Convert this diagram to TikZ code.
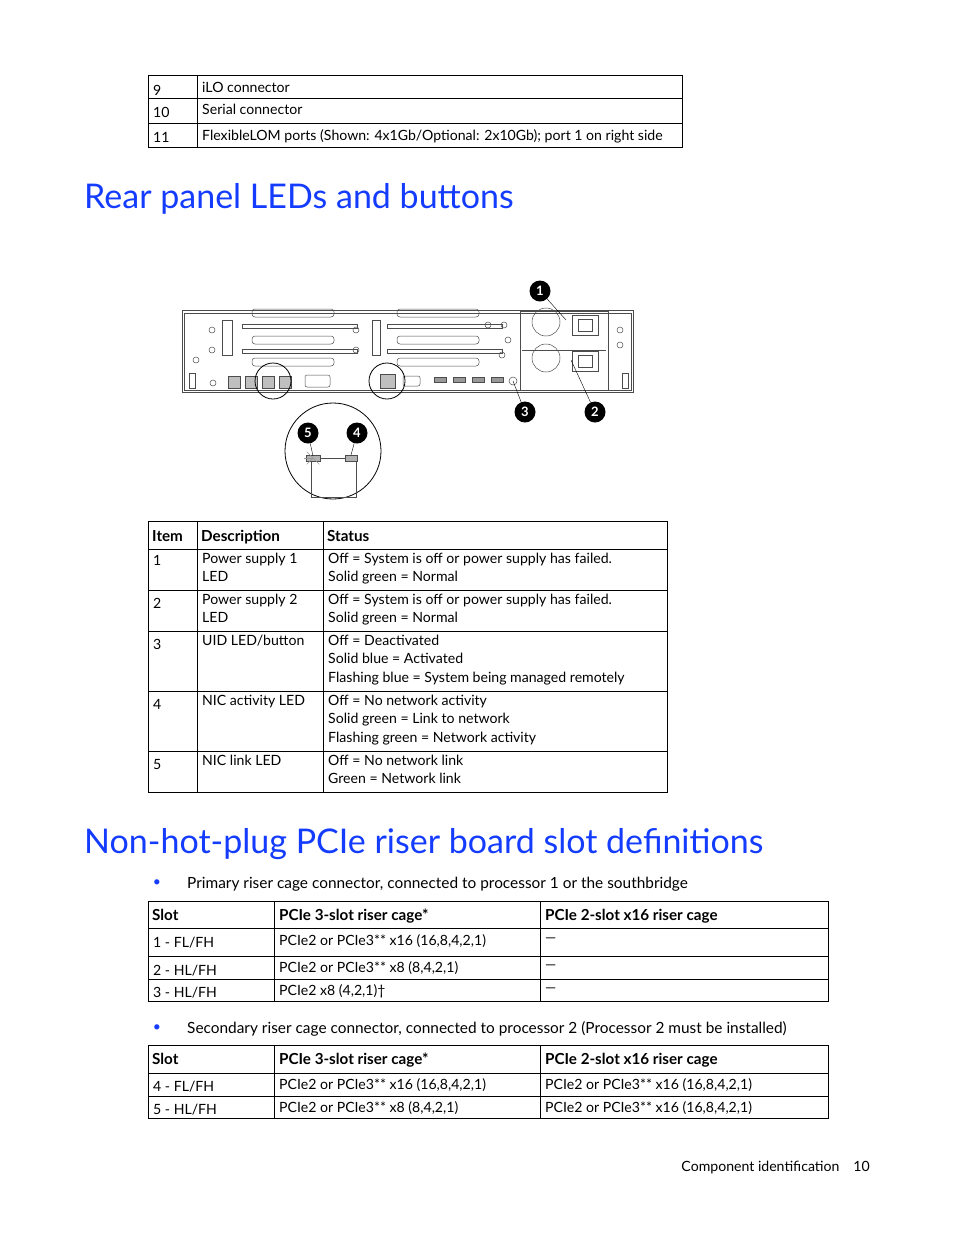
\documentclass[tikz,border=0pt]{standalone}
\usepackage{fontspec}
\setmainfont{Lato}
\usetikzlibrary{positioning}
\definecolor{hpblue}{RGB}{20,60,255}
\tikzset{
  cell/.style={anchor=north west, inner sep=0pt, yshift=-3pt, font=\fontsize{14.1}{18.3}\selectfont, align=left},
  head/.style={cell, font=\fontsize{15.2}{18}\selectfont\bfseries},
  title/.style={anchor=west, inner sep=0pt, text=hpblue, font=\fontsize{34}{38}\selectfont},
  callout/.style={circle, fill=black, text=white, inner sep=0pt, minimum size=21pt, font=\fontsize{13}{13}\selectfont\bfseries},
  grid/.style={line width=0.9pt},
  part/.style={draw=black!70, line width=0.5pt},
}
\begin{document}
\begin{tikzpicture}[x=1pt,y=-1pt]
\useasboundingbox (0,0) rectangle (954,1235);
% top table
\draw[grid] (148,75) rectangle (682,147);
\foreach \y in {98,123} \draw[grid] (148,\y) -- (682,\y);
\draw[grid] (197,75) -- (197,147);
\node[cell] (t1a) at (153,82) {9};
\node[cell] (t1b) at (202,79) {iLO connector};
\node[cell] (t1c) at (153,104) {10};
\node[cell] (t1d) at (202,101) {Serial connector};
\node[cell] (t1e) at (153,129) {11};
\node[cell] (t1f) at (202,126) {FlexibleLOM ports (Shown: 4x1Gb/Optional: 2x10Gb); port 1 on right side};
% heading 1
\node[title] (h1) at (84,199) {Rear panel LEDs and buttons};
% rear panel
\draw[part, line width=0.8pt] (182,310) rectangle (633,392);
\draw[part] (184,313) rectangle (631,390);
\foreach \x in {252,397} {
  \foreach \y in {313,340,362} \draw[part, rounded corners=3pt] (\x,\y-4) rectangle (\x+82,\y+4);
  \foreach \y in {326,351} \draw[part] (\x-10,\y-2) rectangle (\x+105,\y+2);
}
\draw[part] (222,320) rectangle (232,355);
\draw[part] (372,320) rectangle (380,355);
\foreach \x/\y in {196/360, 212/330, 212/350, 356/350, 356/330, 508/340, 502/355, 620/345, 620/330, 213/383, 488/325, 504/325} \draw[part] (\x,\y) circle (3);
\foreach \x in {192,625} \draw[part] (\x-3,373) rectangle (\x+3,388);
% ports
\foreach \x in {228,245,262,279} \draw[part, fill=black!25] (\x,376) rectangle (\x+12,388);
\draw[part, rounded corners=2pt] (305,375) rectangle (330,387);
\draw[part, fill=black!25] (380,374) rectangle (395,388);
\draw[part, rounded corners=2pt] (403,376) rectangle (420,386);
\foreach \x in {434,453,472,491} \draw[part, fill=black!40] (\x,377) rectangle (\x+12,382);
\draw[part] (513,381) circle (4);
% power supplies
\draw[part] (520,311) rectangle (608,390);
\foreach \y in {322,358} {
  \draw[part] (546,\y) circle (14);
  \draw[part] (572,\y-7) rectangle (598,\y+13);
  \draw[part] (578,\y-3) rectangle (592,\y+9);
}
\draw[part] (522,350) -- (606,350);
\coordinate (led1) at (566,320);
\coordinate (led2) at (571,360);
\coordinate (uid) at (513,381);
% magnifiers
\draw[line width=0.8pt] (273,381) circle (18);
\draw[line width=0.8pt] (387,381) circle (18);
\draw[line width=0.8pt] (333,451) circle (48);
\draw[part] (311,458) rectangle (356,497);
\draw[part, fill=black!30] (306,455) rectangle (320,461);
\draw[part, fill=black!30] (345,455) rectangle (357,461);
\foreach \a in {135,180,225,45} \draw[black!40] (313,458) -- ++(\a:9);
\coordinate (nicl) at (313,456);
\coordinate (nica) at (351,455);
\node[callout] (c1) at (540,291) {1};
\node[callout] (c2) at (595,412) {2};
\node[callout] (c3) at (525,412) {3};
\node[callout] (c4) at (357,433) {4};
\node[callout] (c5) at (308,433) {5};
\draw (c1) -- (led1);
\draw (c2) -- (led2);
\draw (c3) -- (uid);
\draw (c4) -- (nica);
\draw (c5) -- (nicl);
% LED table
\draw[grid] (148,521) rectangle (667,792);
\foreach \y in {549,590,631,691,751} \draw[grid] (148,\y) -- (667,\y);
\foreach \x in {197,323} \draw[grid] (\x,521) -- (\x,792);
\node[head] (l0a) at (152,527) {Item};
\node[head] (l0b) at (201,527) {Description};
\node[head] (l0c) at (327,527) {Status};
\node[cell] (l1a) at (153,552) {1};
\node[cell] (l1b) at (202,550) {Power supply 1\\LED};
\node[cell] (l1c) at (328,550) {Off = System is off or power supply has failed.\\Solid green = Normal};
\node[cell] (l2a) at (153,595) {2};
\node[cell] (l2b) at (202,591) {Power supply 2\\LED};
\node[cell] (l2c) at (328,591) {Off = System is off or power supply has failed.\\Solid green = Normal};
\node[cell] (l3a) at (153,636) {3};
\node[cell] (l3b) at (202,632) {UID LED/button};
\node[cell] (l3c) at (328,632) {Off = Deactivated\\Solid blue = Activated\\Flashing blue = System being managed remotely};
\node[cell] (l4a) at (153,696) {4};
\node[cell] (l4b) at (202,692) {NIC activity LED};
\node[cell] (l4c) at (328,692) {Off = No network activity\\Solid green = Link to network\\Flashing green = Network activity};
\node[cell] (l5a) at (153,756) {5};
\node[cell] (l5b) at (202,752) {NIC link LED};
\node[cell] (l5c) at (328,752) {Off = No network link\\Green = Network link};
% heading 2
\node[title] (h2) at (84,844) {Non-hot-plug PCIe riser board slot definitions};
\node[text=hpblue, inner sep=0pt] (b1) at (157,883) {\fontsize{14}{14}\selectfont\textbullet};
\node[anchor=west, inner sep=0pt] (p1) at (187,884) {\fontsize{15.4}{16}\selectfont Primary riser cage connector, connected to processor 1 or the southbridge};
% primary table
\draw[grid] (148,901) rectangle (828,1001);
\foreach \y in {928,956,979} \draw[grid] (148,\y) -- (828,\y);
\foreach \x in {274,540} \draw[grid] (\x,901) -- (\x,1001);
\node[head] (a0a) at (152,906) {Slot};
\node[head] (a0b) at (279,906) {PCIe 3-slot riser cage*};
\node[head] (a0c) at (545,906) {PCIe 2-slot x16 riser cage};
\node[cell] (a1a) at (153,934) {1 - FL/FH};
\node[cell] (a1b) at (279,931) {PCIe2 or PCIe3** x16 (16,8,4,2,1)};
\node[cell] (a1c) at (545,935) {---};
\node[cell] (a2a) at (153,962) {2 - HL/FH};
\node[cell] (a2b) at (279,958) {PCIe2 or PCIe3** x8 (8,4,2,1)};
\node[cell] (a2c) at (545,962) {---};
\node[cell] (a3a) at (153,984) {3 - HL/FH};
\node[cell] (a3b) at (279,981) {PCIe2 x8 (4,2,1)\dag};
\node[cell] (a3c) at (545,985) {---};
\node[text=hpblue, inner sep=0pt] (b2) at (157,1028) {\fontsize{14}{14}\selectfont\textbullet};
\node[anchor=west, inner sep=0pt] (p2) at (187,1029) {\fontsize{15.4}{16}\selectfont Secondary riser cage connector, connected to processor 2 (Processor 2 must be installed)};
% secondary table
\draw[grid] (148,1045) rectangle (828,1118);
\foreach \y in {1073,1096} \draw[grid] (148,\y) -- (828,\y);
\foreach \x in {274,540} \draw[grid] (\x,1045) -- (\x,1118);
\node[head] (s0a) at (152,1050) {Slot};
\node[head] (s0b) at (279,1050) {PCIe 3-slot riser cage*};
\node[head] (s0c) at (545,1050) {PCIe 2-slot x16 riser cage};
\node[cell] (s1a) at (153,1078) {4 - FL/FH};
\node[cell] (s1b) at (279,1075) {PCIe2 or PCIe3** x16 (16,8,4,2,1)};
\node[cell] (s1c) at (545,1075) {PCIe2 or PCIe3** x16 (16,8,4,2,1)};
\node[cell] (s2a) at (153,1101) {5 - HL/FH};
\node[cell] (s2b) at (279,1098) {PCIe2 or PCIe3** x8 (8,4,2,1)};
\node[cell] (s2c) at (545,1098) {PCIe2 or PCIe3** x16 (16,8,4,2,1)};
% footer
\node[anchor=east, inner sep=0pt] (foot) at (870,1168) {\fontsize{14.1}{16}\selectfont Component identification\hspace{14pt}10};
\end{tikzpicture}
\end{document}
